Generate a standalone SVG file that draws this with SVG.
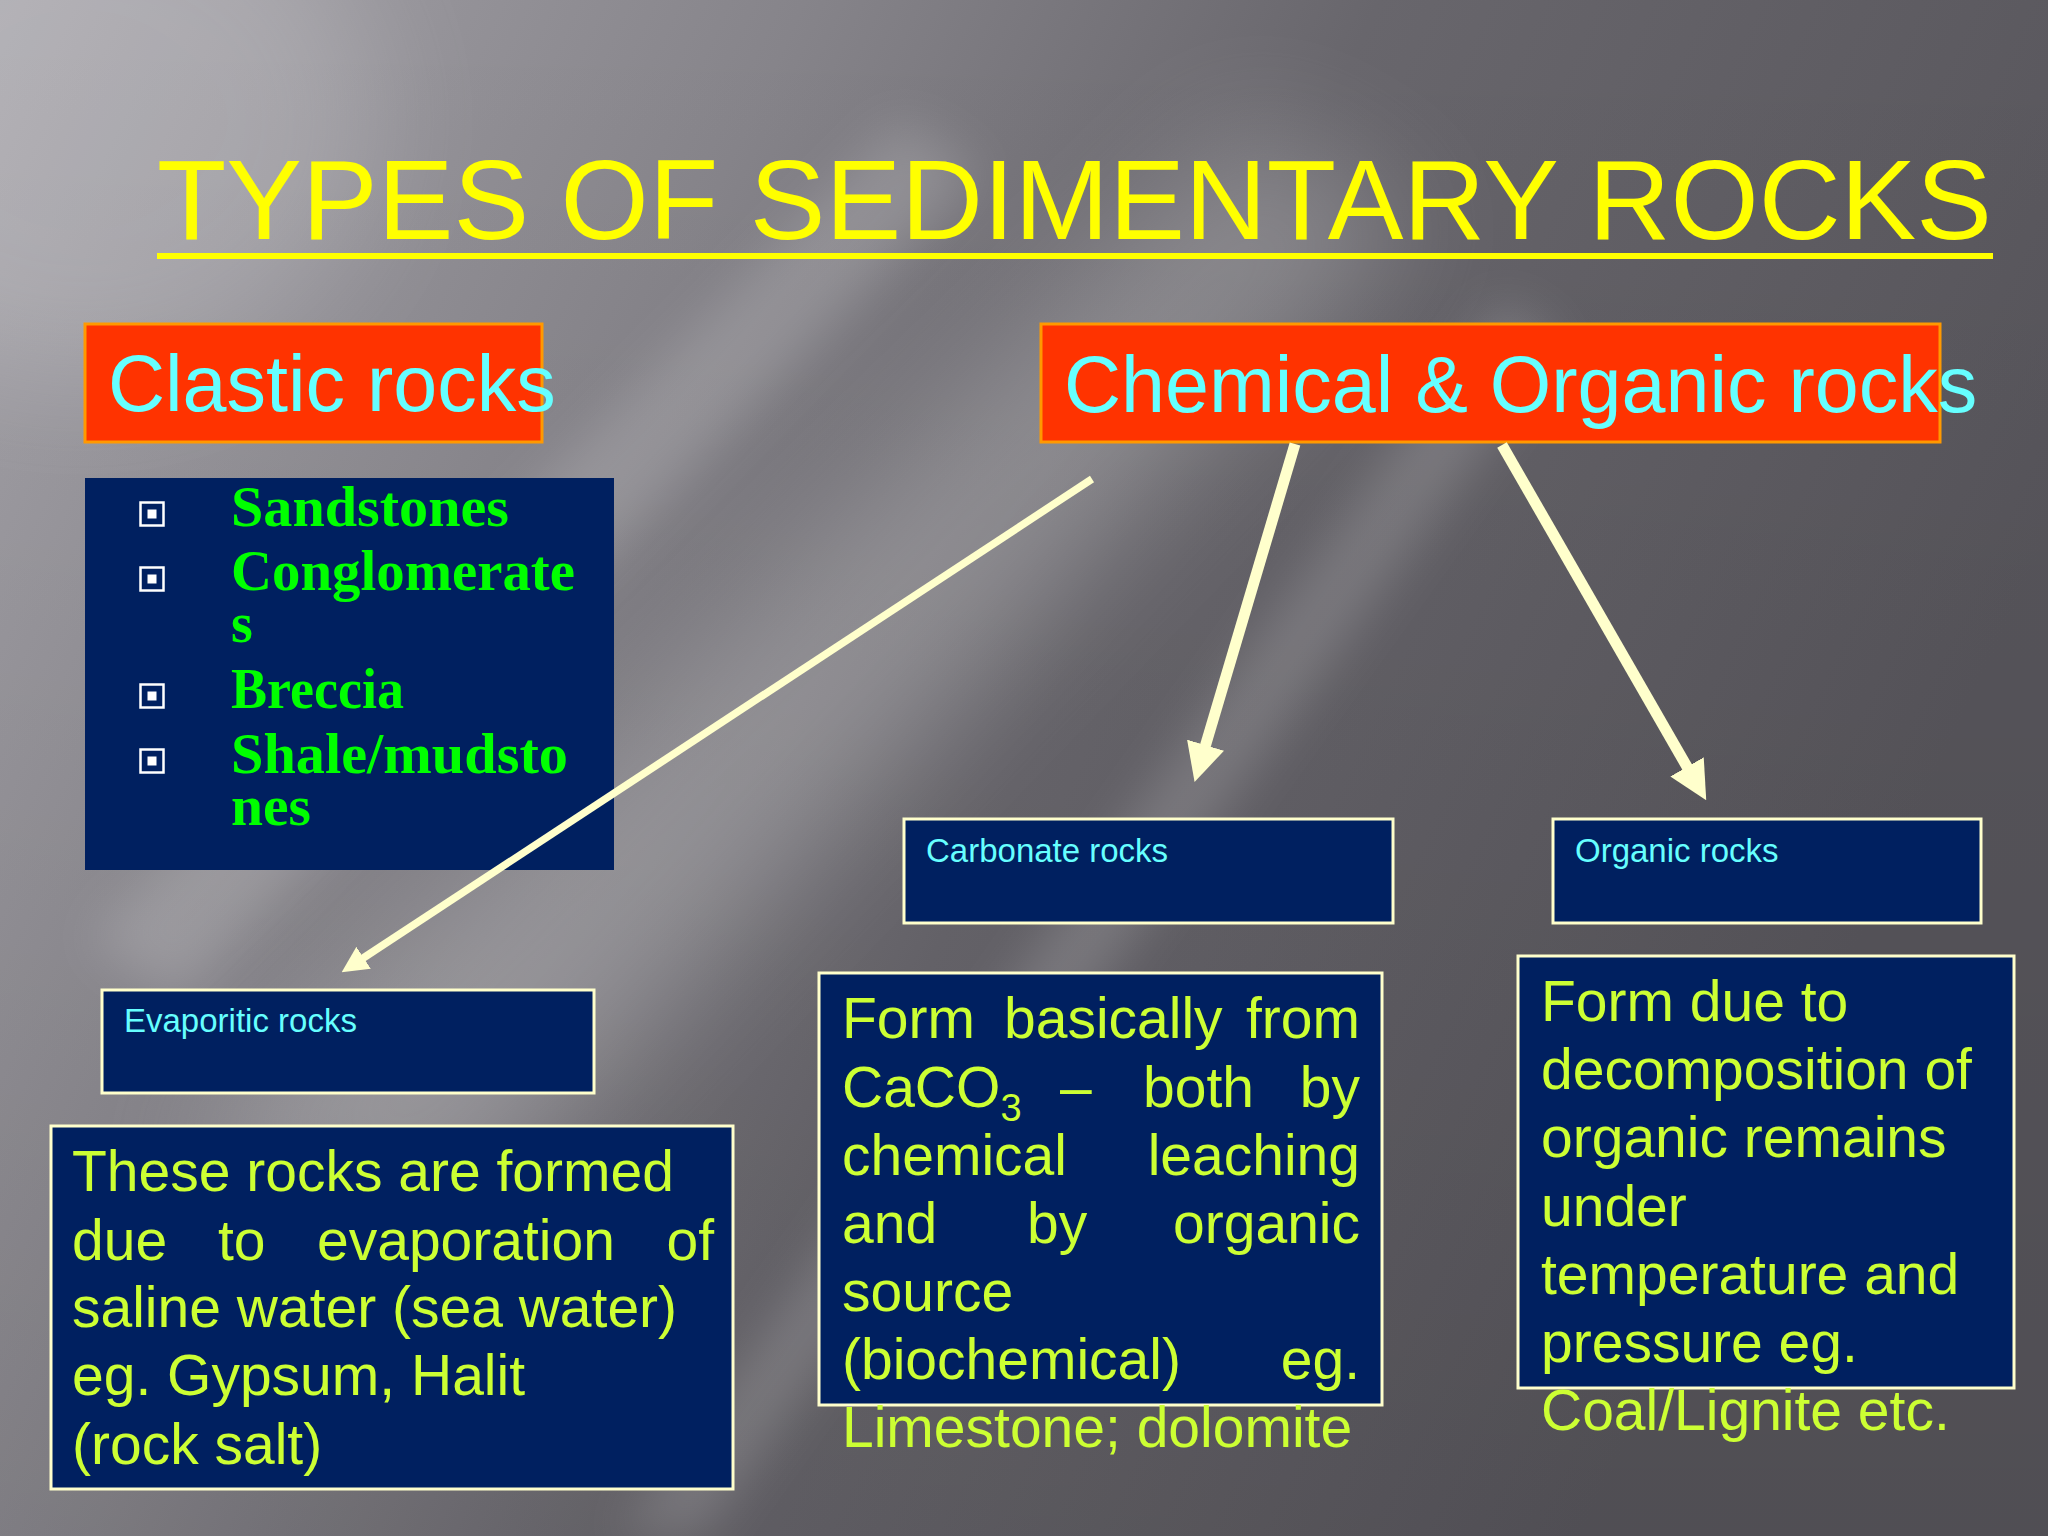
<svg xmlns="http://www.w3.org/2000/svg" width="2048" height="1536" viewBox="0 0 2048 1536">
  <defs>
    <linearGradient id="bg" x1="0" y1="0" x2="1" y2="0.35">
      <stop offset="0" stop-color="#a6a4aa"/>
      <stop offset="0.35" stop-color="#86848a"/>
      <stop offset="0.6" stop-color="#68666c"/>
      <stop offset="1" stop-color="#57555b"/>
    </linearGradient>
    <linearGradient id="vshade" x1="0" y1="0" x2="0" y2="1">
      <stop offset="0" stop-color="#000" stop-opacity="0"/>
      <stop offset="1" stop-color="#000" stop-opacity="0.08"/>
    </linearGradient>
    <filter id="blur" x="-50%" y="-50%" width="200%" height="200%">
      <feGaussianBlur stdDeviation="60"/>
    </filter>
    <filter id="blur2" x="-50%" y="-50%" width="200%" height="200%">
      <feGaussianBlur stdDeviation="25"/>
    </filter>
    <marker id="head" viewBox="0 0 10 10" refX="0.5" refY="5" markerWidth="3.5" markerHeight="3.5" orient="auto" markerUnits="strokeWidth">
      <path d="M0,0 L10,5 L0,10 z" fill="#FFFFCC"/>
    </marker>
    <style>
      .orange { fill: #FF3300; stroke: #FF9900; stroke-width: 3; }
      .navy { fill: #002060; }
      .nbox { fill: #002060; stroke: #FFFFCC; stroke-width: 3; }
      .head { font-family: "Liberation Sans", Arial, sans-serif; font-size: 79px; fill: #66FFFF; }
      .lbl { font-family: "Liberation Sans", Arial, sans-serif; font-size: 33px; fill: #66FFFF; }
      .desc { font-family: "Liberation Sans", Arial, sans-serif; font-size: 57px; fill: #CCFF33; }
      .item { font-family: "Liberation Serif", "Times New Roman", serif; font-weight: bold; font-size: 56px; fill: #00FF00; }
      .bul { fill: none; stroke: #FFFFFF; stroke-width: 2.5; }
      .buli { fill: #FFFFFF; }
      .arrow { fill: none; stroke: #FFFFCC; stroke-linecap: butt; marker-end: url(#head); }
    </style>
  </defs>

  <!-- background -->
  <rect x="0" y="0" width="2048" height="1536" fill="url(#bg)"/>
  <rect x="0" y="0" width="2048" height="1536" fill="url(#vshade)"/>
  <g filter="url(#blur)" opacity="0.22">
    <polygon points="1250,120 1420,220 430,1250 180,1160" fill="#ffffff"/>
  </g>
  <g filter="url(#blur2)" opacity="0.16">
    <polygon points="900,120 980,170 180,1000 90,940" fill="#ffffff"/>
    <polygon points="1500,300 1560,340 700,1536 620,1536" fill="#ffffff"/>
  </g>
  <g filter="url(#blur)" opacity="0.15">
    <ellipse cx="80" cy="120" rx="300" ry="260" fill="#ffffff"/>
  </g>

  <!-- title -->
  <g id="title">
    <text x="157" y="239" font-family="'Liberation Sans', Arial, sans-serif" font-size="113" fill="#FFFF00" textLength="1835" lengthAdjust="spacingAndGlyphs">TYPES OF SEDIMENTARY ROCKS</text>
    <rect x="157" y="253" width="1836" height="6" fill="#FFFF00"/>
  </g>

  <!-- Clastic rocks header -->
  <g id="clastic">
    <rect class="orange" x="85" y="324" width="457" height="118"/>
    <text class="head" x="108" y="411">Clastic rocks</text>
  </g>

  <!-- Clastic list -->
  <g id="clastic-list">
    <rect class="navy" x="85" y="478" width="529" height="392"/>
    <rect class="bul" x="140.5" y="502.5" width="23" height="23"/>
    <rect class="buli" x="147.5" y="509.5" width="9" height="9"/>
    <rect class="bul" x="140.5" y="567.5" width="23" height="23"/>
    <rect class="buli" x="147.5" y="574.5" width="9" height="9"/>
    <rect class="bul" x="140.5" y="684.5" width="23" height="23"/>
    <rect class="buli" x="147.5" y="691.5" width="9" height="9"/>
    <rect class="bul" x="140.5" y="749.5" width="23" height="23"/>
    <rect class="buli" x="147.5" y="756.5" width="9" height="9"/>
    <text class="item" x="231" y="526" textLength="278" lengthAdjust="spacingAndGlyphs">Sandstones</text>
    <text class="item" x="231" y="590" textLength="344" lengthAdjust="spacingAndGlyphs">Conglomerate</text>
    <text class="item" x="231" y="642">s</text>
    <text class="item" x="231" y="708" textLength="173" lengthAdjust="spacingAndGlyphs">Breccia</text>
    <text class="item" x="231" y="773" textLength="337" lengthAdjust="spacingAndGlyphs">Shale/mudsto</text>
    <text class="item" x="231" y="825" textLength="80" lengthAdjust="spacingAndGlyphs">nes</text>
  </g>

  <!-- Chemical & Organic header -->
  <g id="chemical">
    <rect class="orange" x="1041" y="324" width="899" height="118"/>
    <text class="head" x="1064" y="412">Chemical &amp; Organic rocks</text>
  </g>

  <!-- Carbonate rocks -->
  <g id="carbonate">
    <rect class="nbox" x="904" y="819" width="489" height="104"/>
    <text class="lbl" x="926" y="862">Carbonate rocks</text>
  </g>

  <!-- Organic rocks -->
  <g id="organic">
    <rect class="nbox" x="1553" y="819" width="428" height="104"/>
    <text class="lbl" x="1575" y="862">Organic rocks</text>
  </g>

  <!-- Evaporitic rocks -->
  <g id="evaporitic">
    <rect class="nbox" x="102" y="990" width="492" height="103"/>
    <text class="lbl" x="124" y="1032">Evaporitic rocks</text>
  </g>

  <!-- Evaporitic description -->
  <g id="evaporitic-desc">
    <rect class="nbox" x="51" y="1126" width="682" height="363"/>
    <text class="desc" x="72" y="1191">These rocks are formed</text>
    <text class="desc" x="72" y="1260">due</text>
    <text class="desc" x="218" y="1260">to</text>
    <text class="desc" x="317" y="1260">evaporation</text>
    <text class="desc" x="714" y="1260" text-anchor="end">of</text>
    <text class="desc" x="72" y="1327">saline water (sea water)</text>
    <text class="desc" x="72" y="1395">eg. Gypsum, Halit</text>
    <text class="desc" x="72" y="1464">(rock salt)</text>
  </g>

  <!-- Carbonate description -->
  <g id="carbonate-desc">
    <rect class="nbox" x="819" y="973" width="563" height="432"/>
    <text class="desc" x="842" y="1038">Form</text>
    <text class="desc" x="1004" y="1038">basically</text>
    <text class="desc" x="1360" y="1038" text-anchor="end">from</text>
    <text class="desc" x="842" y="1107">CaCO<tspan font-size="38" dy="14">3</tspan></text>
    <text class="desc" x="1060" y="1107">–</text>
    <text class="desc" x="1143" y="1107">both</text>
    <text class="desc" x="1360" y="1107" text-anchor="end">by</text>
    <text class="desc" x="842" y="1175">chemical</text>
    <text class="desc" x="1360" y="1175" text-anchor="end">leaching</text>
    <text class="desc" x="842" y="1243">and</text>
    <text class="desc" x="1027" y="1243">by</text>
    <text class="desc" x="1360" y="1243" text-anchor="end">organic</text>
    <text class="desc" x="842" y="1311">source</text>
    <text class="desc" x="842" y="1379">(biochemical)</text>
    <text class="desc" x="1360" y="1379" text-anchor="end">eg.</text>
    <text class="desc" x="842" y="1447">Limestone; dolomite</text>
  </g>

  <!-- Organic description -->
  <g id="organic-desc">
    <rect class="nbox" x="1518" y="956" width="496" height="432"/>
    <text class="desc" x="1541" y="1021">Form due to</text>
    <text class="desc" x="1541" y="1089">decomposition of</text>
    <text class="desc" x="1541" y="1157">organic remains</text>
    <text class="desc" x="1541" y="1226">under</text>
    <text class="desc" x="1541" y="1294">temperature and</text>
    <text class="desc" x="1541" y="1362">pressure eg.</text>
    <text class="desc" x="1541" y="1430">Coal/Lignite etc.</text>
  </g>

  <!-- connectors -->
  <g id="connectors">
    <line class="arrow" x1="1092" y1="479" x2="362.5" y2="958.5" stroke-width="7.5"/>
    <line class="arrow" x1="1295" y1="444" x2="1205" y2="747" stroke-width="11"/>
    <line class="arrow" x1="1502" y1="445" x2="1688" y2="768.5" stroke-width="11"/>
  </g>
</svg>
